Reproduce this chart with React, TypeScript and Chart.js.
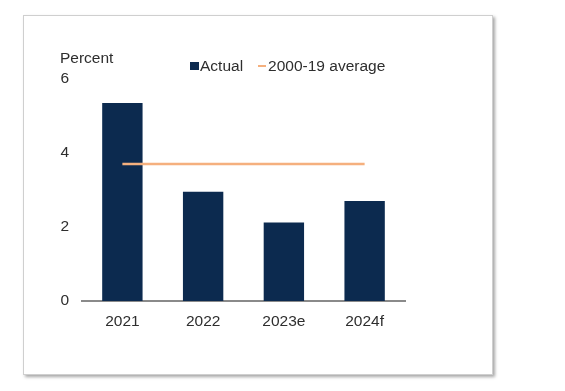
import React, { useEffect, useRef } from "react";
import { Chart, registerables } from "chart.js";

Chart.register(...registerables);

const categories = ["2021", "2022", "2023e", "2024f"];
const actualValues = [5.35, 2.95, 2.12, 2.7];
const averageValues = [3.7, 3.7, 3.7, 3.7];
const yTicks = [0, 2, 4, 6];

const NAVY = "#0c2a4f";
const ORANGE = "#f5b07e";
const TEXT = "#2e2e2e";
const FONT = "'Liberation Sans', Arial, sans-serif";

export default function App() {
  const ref = useRef<HTMLCanvasElement | null>(null);

  useEffect(() => {
    if (!ref.current) return;
    const chart = new Chart(ref.current, {
      type: "bar",
      data: {
        labels: categories,
        datasets: [
          {
            type: "line",
            label: "2000-19 average",
            data: averageValues,
            borderColor: ORANGE,
            borderWidth: 2.5,
            pointRadius: 0,
            fill: false,
            order: 0,
          } as any,
          {
            type: "bar",
            label: "Actual",
            data: actualValues,
            backgroundColor: NAVY,
            borderWidth: 0,
            categoryPercentage: 1,
            barPercentage: 0.5,
            order: 1,
          },
        ],
      },
      options: {
        responsive: false,
        animation: false,
        devicePixelRatio: 1,
        layout: { padding: { top: 79, left: 0, right: 160, bottom: 60 } },
        plugins: {
          legend: { display: false },
          tooltip: { enabled: false },
          title: { display: false },
        },
        scales: {
          x: {
            grid: { display: true, drawOnChartArea: false, drawTicks: false },
            border: { display: true, color: "#8a8a8a", width: 2 },
            ticks: {
              color: TEXT,
              padding: 11,
              font: { family: FONT, size: 15.5 },
            },
            afterFit: (s: any) => {
              s.height = 30;
            },
          },
          y: {
            min: 0,
            max: 6,
            afterBuildTicks: (s: any) => {
              s.ticks = yTicks.map((v) => ({ value: v }));
            },
            grid: { display: false, drawTicks: false },
            border: { display: false },
            ticks: {
              color: TEXT,
              padding: 13,
              font: { family: FONT, size: 15.5 },
            },
            afterFit: (s: any) => {
              s.width = 82;
            },
          },
        },
      },
    });
    return () => chart.destroy();
  }, []);

  return (
    <div
      style={{
        position: "absolute",
        left: 0,
        top: 0,
        width: 565,
        height: 391,
        background: "#ffffff",
        overflow: "hidden",
        fontFamily: FONT,
      }}
    >
      <div
        style={{
          position: "absolute",
          left: 23,
          top: 15,
          width: 468,
          height: 358,
          border: "1px solid #cfcfcf",
          boxShadow: "2px 2px 3px rgba(0,0,0,0.35)",
          background: "#ffffff",
        }}
      />
      <canvas
        ref={ref}
        width={565}
        height={391}
        style={{ position: "absolute", left: 0, top: 0, width: 565, height: 391 }}
      />
      <div
        style={{
          position: "absolute",
          left: 60,
          top: 48,
          fontSize: 15.5,
          color: TEXT,
          lineHeight: "20px",
        }}
      >
        Percent
      </div>
      <div
        style={{
          position: "absolute",
          left: 190,
          top: 56,
          fontSize: 15.5,
          color: TEXT,
          lineHeight: "20px",
          display: "flex",
          alignItems: "center",
          whiteSpace: "nowrap",
        }}
      >
        <span
          style={{
            display: "inline-block",
            width: 9,
            height: 8,
            background: NAVY,
            marginRight: 1,
          }}
        />
        <span>Actual</span>
        <span
          style={{
            display: "inline-block",
            width: 8,
            height: 2,
            background: ORANGE,
            marginLeft: 15,
            marginRight: 2,
          }}
        />
        <span>2000-19 average</span>
      </div>
    </div>
  );
}
